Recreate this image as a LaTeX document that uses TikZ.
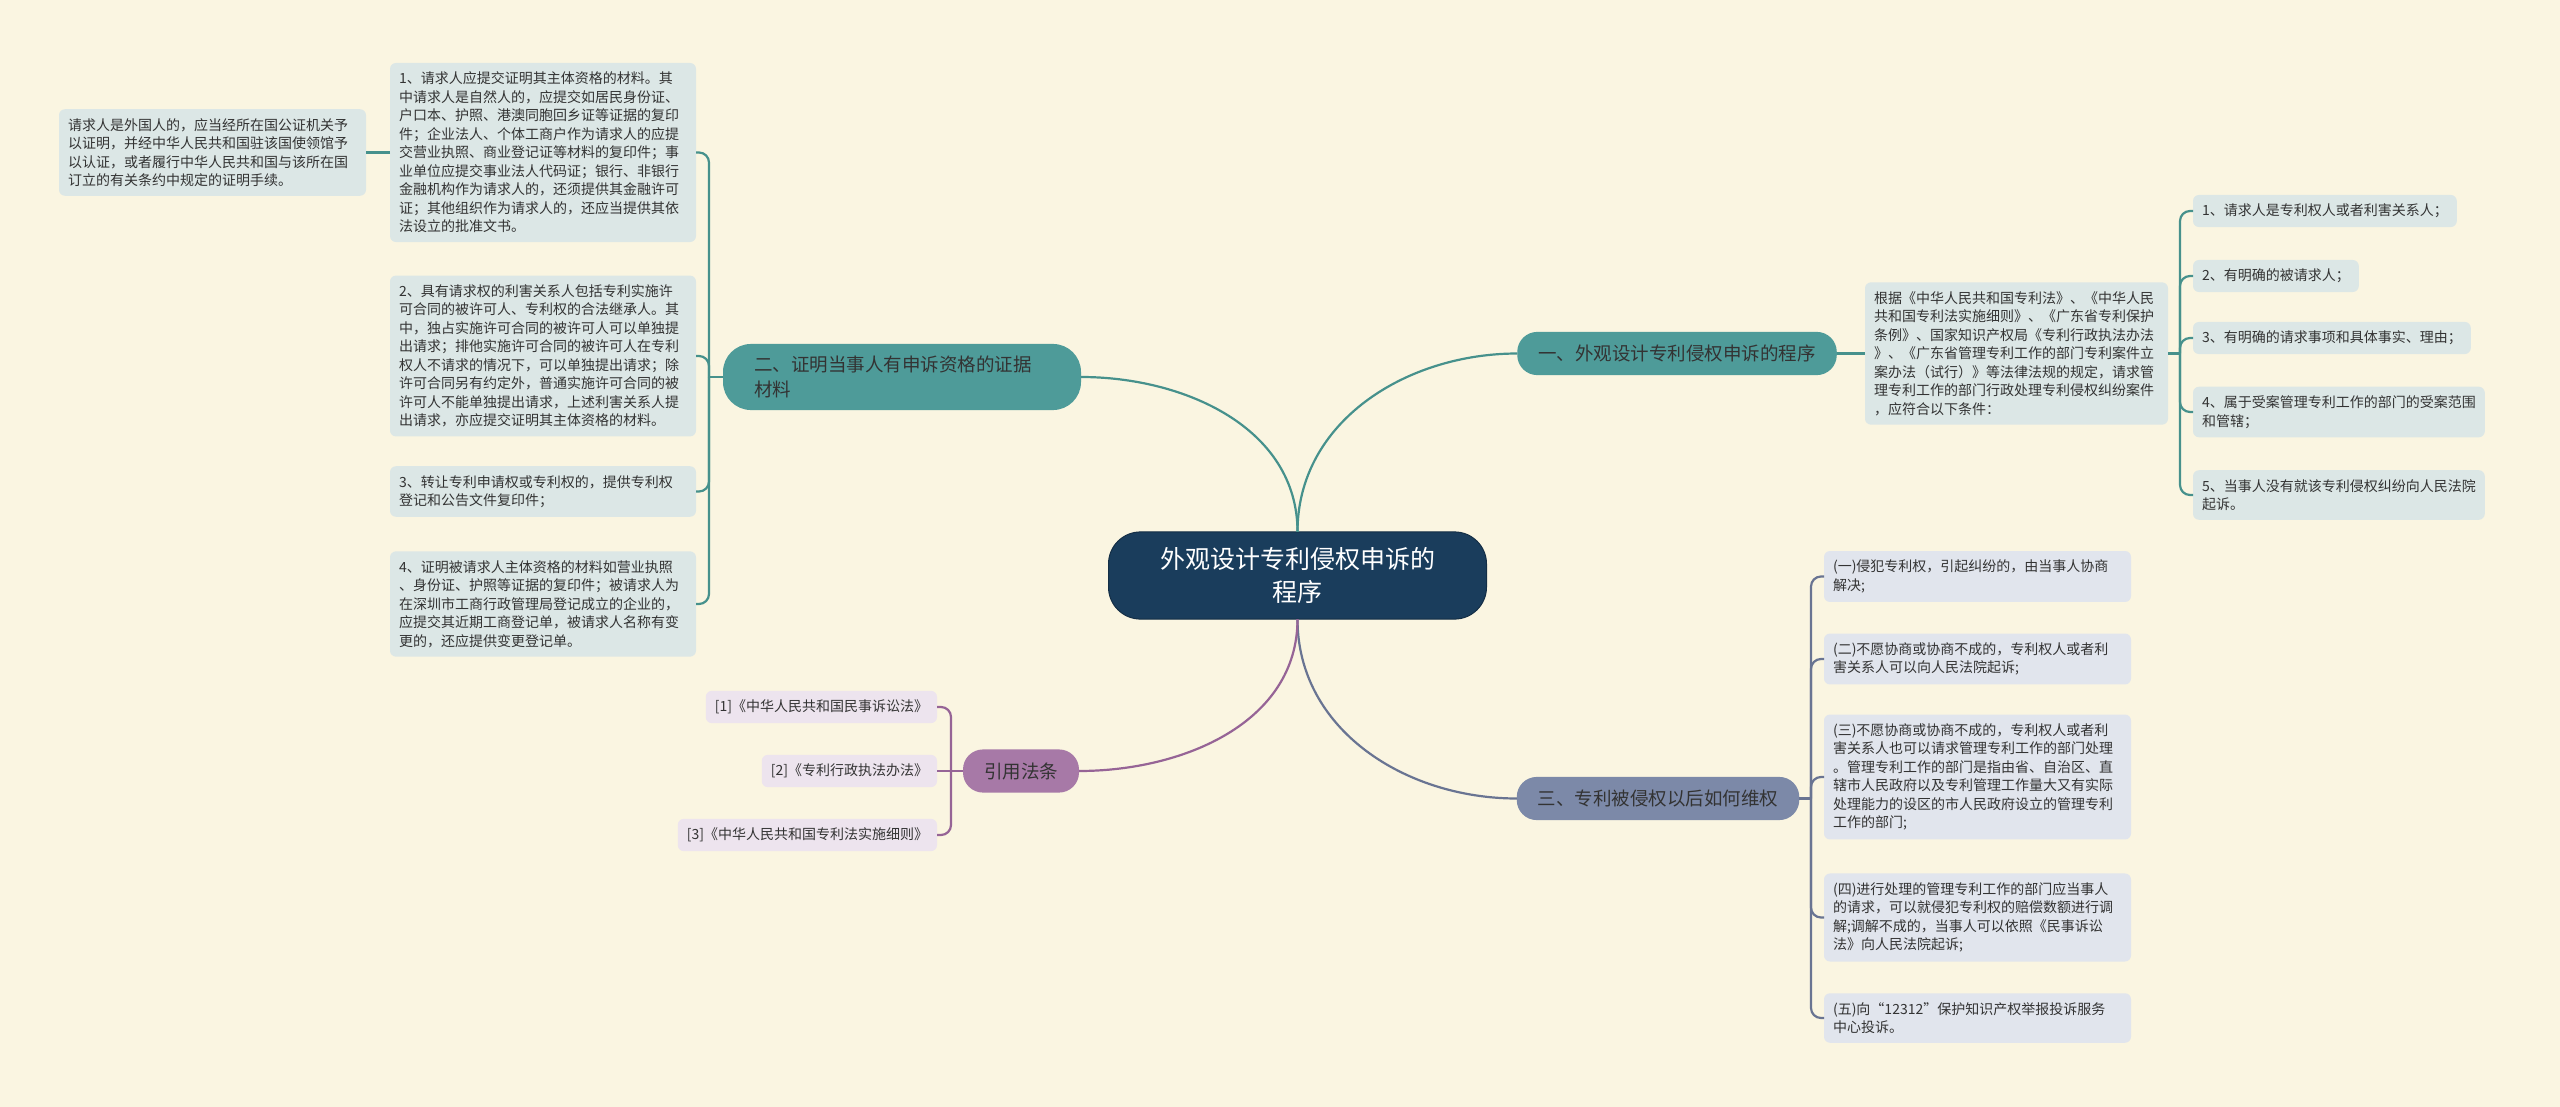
\documentclass[tikz,border=0pt]{standalone}
\usepackage{fontspec}
\setmainfont{Noto Sans CJK SC}

\definecolor{mmbg}{RGB}{250,245,225}
\definecolor{mmroot}{RGB}{26,61,92}
\definecolor{mmtealfill}{RGB}{78,155,153}
\definecolor{mmtealleaf}{RGB}{220,231,230}
\definecolor{mmtealline}{RGB}{70,145,140}
\definecolor{mmslatefill}{RGB}{124,137,168}
\definecolor{mmslateleaf}{RGB}{225,229,237}
\definecolor{mmslateline}{RGB}{105,116,146}
\definecolor{mmpurplefill}{RGB}{167,121,167}
\definecolor{mmpurpleleaf}{RGB}{237,228,238}
\definecolor{mmpurpleline}{RGB}{150,100,150}
\definecolor{mmtext}{RGB}{51,51,51}

\begin{document}
\begin{tikzpicture}[
  x=1pt,
  y=-1pt,
  every node/.style={outer sep=0pt},
  rootbox/.style={fill=mmroot, draw=mmroot!75!black, line width=1pt, rounded corners=32pt, text=white, font=\fontsize{25}{33}\selectfont, align=center, text width=338pt, inner xsep=20pt, inner ysep=15.5pt},
  branch/.style={rounded corners=20pt, text=mmtext, font=\fontsize{18.5}{25}\selectfont, inner xsep=21pt, inner ysep=13pt},
  leaf/.style={rounded corners=6pt, text=mmtext, font=\fontsize{14}{18.5}\selectfont, align=left, inner xsep=9pt, inner ysep=9pt},
  tealleaf/.style={leaf, fill=mmtealleaf},
  slateleaf/.style={leaf, fill=mmslateleaf},
  purpleleaf/.style={leaf, fill=mmpurpleleaf},
  tealline/.style={draw=mmtealline, line width=2.2pt},
  slateline/.style={draw=mmslateline, line width=2.2pt},
  purpleline/.style={draw=mmpurpleline, line width=2.2pt},
  hook/.style={rounded corners=10pt}
]

  \path[use as bounding box, fill=mmbg] (0,0) rectangle (2560,1107);

  % Root and the four main branches.
  \node[rootbox] (root) at (1297.5,575.5) {外观设计专利侵权申诉的\\程序};
  \node[branch, fill=mmtealfill] (b1) at (1677,353.5) {一、外观设计专利侵权申诉的程序};
  \node[branch, fill=mmtealfill, rounded corners=28pt, align=left, text width=296pt, inner xsep=31pt, inner ysep=12pt] (b2) at (902,377) {二、证明当事人有申诉资格的证据\\材料};
  \node[branch, fill=mmslatefill] (b3) at (1658,798.5) {三、专利被侵权以后如何维权};
  \node[branch, fill=mmpurplefill] (b4) at (1021,771) {引用法条};

  \draw[tealline] (root.north) to[out=90, in=180] (b1.west);
  \draw[tealline] (root.north) to[out=90, in=0] (b2.east);
  \draw[slateline] (root.south) to[out=-90, in=180] (b3.west);
  \draw[purpleline] (root.south) to[out=-90, in=0] (b4.east);

  % Branch one: legal basis and the five conditions.
  \node[tealleaf, anchor=west, text width=285pt] (basis) at (1865,353.5)
    {根据《中华人民共和国专利法》、《中华人民\\共和国专利法实施细则》、《广东省专利保护\\条例》、国家知识产权局《专利行政执法办法\\》、《广东省管理专利工作的部门专利案件立\\案办法（试行）》等法律法规的规定，请求管\\理专利工作的部门行政处理专利侵权纠纷案件\\，应符合以下条件：};
  \node[tealleaf, anchor=west] (cond1) at (2193,211) {1、请求人是专利权人或者利害关系人；};
  \node[tealleaf, anchor=west] (cond2) at (2193,276) {2、有明确的被请求人；};
  \node[tealleaf, anchor=west] (cond3) at (2193,338) {3、有明确的请求事项和具体事实、理由；};
  \node[tealleaf, anchor=west] (cond4) at (2193,412) {4、属于受案管理专利工作的部门的受案范围\\和管辖；};
  \node[tealleaf, anchor=west] (cond5) at (2193,495) {5、当事人没有就该专利侵权纠纷向人民法院\\起诉。};

  \draw[tealline] (b1.east) -- (basis.west);
  \coordinate (jbasis) at (2180,353.5);
  \draw[tealline] (basis.east) -- (jbasis);
  \draw[tealline, hook] (jbasis) |- (cond1.west);
  \draw[tealline, hook] (jbasis) |- (cond2.west);
  \draw[tealline, hook] (jbasis) |- (cond3.west);
  \draw[tealline, hook] (jbasis) |- (cond4.west);
  \draw[tealline, hook] (jbasis) |- (cond5.west);

  % Branch two: evidence of standing.
  \node[tealleaf, anchor=east, text width=288pt] (proof1) at (696,152.5)
    {1、请求人应提交证明其主体资格的材料。其\\中请求人是自然人的，应提交如居民身份证、\\户口本、护照、港澳同胞回乡证等证据的复印\\件；企业法人、个体工商户作为请求人的应提\\交营业执照、商业登记证等材料的复印件；事\\业单位应提交事业法人代码证；银行、非银行\\金融机构作为请求人的，还须提供其金融许可\\证；其他组织作为请求人的，还应当提供其依\\法设立的批准文书。};
  \node[tealleaf, anchor=east, text width=288pt] (proof2) at (696,356)
    {2、具有请求权的利害关系人包括专利实施许\\可合同的被许可人、专利权的合法继承人。其\\中，独占实施许可合同的被许可人可以单独提\\出请求；排他实施许可合同的被许可人在专利\\权人不请求的情况下，可以单独提出请求；除\\许可合同另有约定外，普通实施许可合同的被\\许可人不能单独提出请求，上述利害关系人提\\出请求，亦应提交证明其主体资格的材料。};
  \node[tealleaf, anchor=east, text width=288pt] (proof3) at (696,491.5)
    {3、转让专利申请权或专利权的，提供专利权\\登记和公告文件复印件；};
  \node[tealleaf, anchor=east, text width=288pt] (proof4) at (696,604)
    {4、证明被请求人主体资格的材料如营业执照\\、身份证、护照等证据的复印件；被请求人为\\在深圳市工商行政管理局登记成立的企业的，\\应提交其近期工商登记单，被请求人名称有变\\更的，还应提供变更登记单。};
  \node[tealleaf, anchor=east, text width=289pt] (foreign) at (366,152.5)
    {请求人是外国人的，应当经所在国公证机关予\\以证明，并经中华人民共和国驻该国使领馆予\\以认证，或者履行中华人民共和国与该所在国\\订立的有关条约中规定的证明手续。};

  \coordinate (jproof) at (709,377);
  \draw[tealline] (b2.west) -- (jproof);
  \draw[tealline, hook] (jproof) |- (proof1.east);
  \draw[tealline, hook] (jproof) |- (proof2.east);
  \draw[tealline, hook] (jproof) |- (proof3.east);
  \draw[tealline, hook] (jproof) |- (proof4.east);
  \draw[tealline] (proof1.west) -- (foreign.east);

  % Branch three: remedies after infringement.
  \node[slateleaf, anchor=west, text width=289pt] (way1) at (1824,576.5)
    {(一)侵犯专利权，引起纠纷的，由当事人协商\\解决;};
  \node[slateleaf, anchor=west, text width=289pt] (way2) at (1824,659)
    {(二)不愿协商或协商不成的，专利权人或者利\\害关系人可以向人民法院起诉;};
  \node[slateleaf, anchor=west, text width=289pt] (way3) at (1824,777)
    {(三)不愿协商或协商不成的，专利权人或者利\\害关系人也可以请求管理专利工作的部门处理\\。管理专利工作的部门是指由省、自治区、直\\辖市人民政府以及专利管理工作量大又有实际\\处理能力的设区的市人民政府设立的管理专利\\工作的部门;};
  \node[slateleaf, anchor=west, text width=289pt] (way4) at (1824,917.5)
    {(四)进行处理的管理专利工作的部门应当事人\\的请求，可以就侵犯专利权的赔偿数额进行调\\解;调解不成的，当事人可以依照《民事诉讼\\法》向人民法院起诉;};
  \node[slateleaf, anchor=west, text width=289pt] (way5) at (1824,1018)
    {(五)向“12312”保护知识产权举报投诉服务\\中心投诉。};

  \coordinate (jway) at (1811,798.5);
  \draw[slateline] (b3.east) -- (jway);
  \draw[slateline, hook] (jway) |- (way1.west);
  \draw[slateline, hook] (jway) |- (way2.west);
  \draw[slateline, hook] (jway) |- (way3.west);
  \draw[slateline, hook] (jway) |- (way4.west);
  \draw[slateline, hook] (jway) |- (way5.west);

  % Cited laws.
  \node[purpleleaf, anchor=east] (law1) at (937,707) {[1]《中华人民共和国民事诉讼法》};
  \node[purpleleaf, anchor=east] (law2) at (937,771) {[2]《专利行政执法办法》};
  \node[purpleleaf, anchor=east] (law3) at (937,835) {[3]《中华人民共和国专利法实施细则》};

  \coordinate (jlaw) at (951,771);
  \draw[purpleline] (b4.west) -- (law2.east);
  \draw[purpleline, hook] (jlaw) |- (law1.east);
  \draw[purpleline, hook] (jlaw) |- (law3.east);

\end{tikzpicture}
\end{document}
